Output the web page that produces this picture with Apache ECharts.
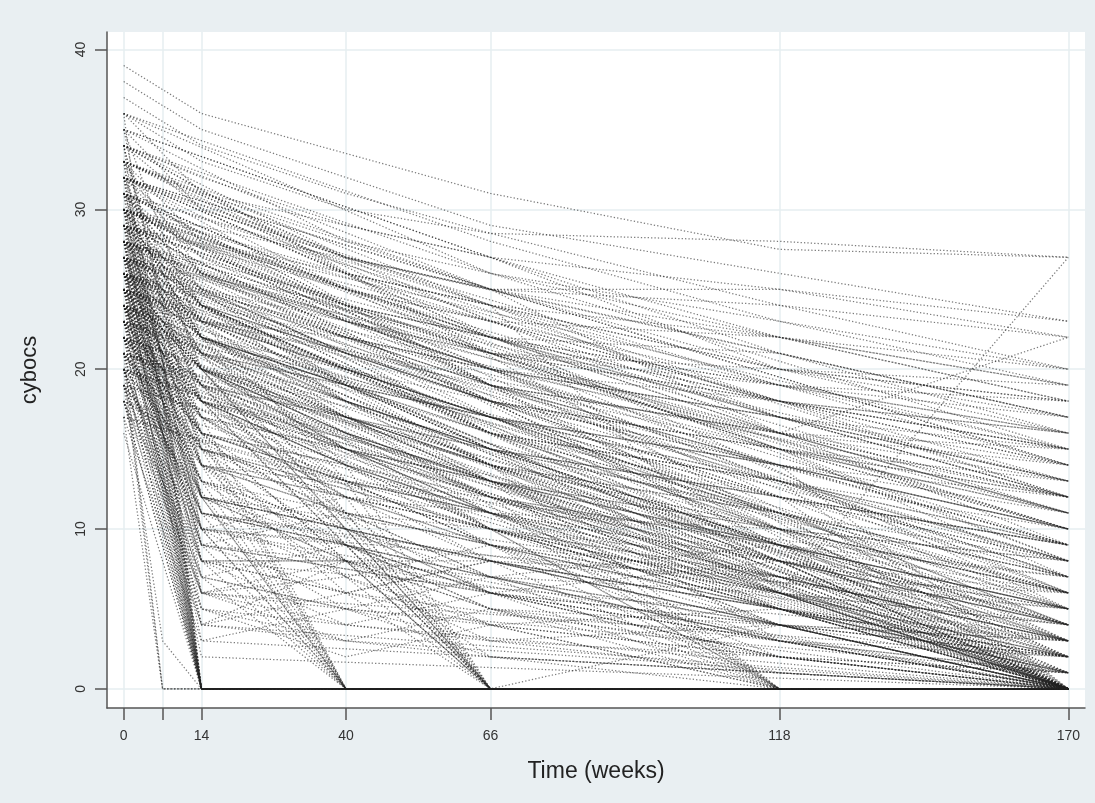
<!DOCTYPE html>
<html>
<head>
<meta charset="utf-8">
<title>cybocs over time</title>
<script src="https://cdn.jsdelivr.net/npm/echarts@6/dist/echarts.min.js"></script>
<style>
  html, body { margin: 0; padding: 0; background: #e9eff2; }
  #chart { width: 1095px; height: 803px; }
</style>
</head>
<body>
<div id="chart"></div>
<script>
// Visit weeks and axis ticks
const _ = null;
const weeks = [0, 7, 14, 40, 66, 118, 170];
const xTickWeeks = [0, 7, 14, 40, 66, 118, 170];
const xLabelWeeks = [0, 14, 40, 66, 118, 170];
const yTicks = [0, 10, 20, 30, 40];

// cybocs score per subject at each visit week (null = not assessed)
const steadyCourse = [
  [39,_,36,33.5,31,27.5,27],
  [38,_,35,32,29,26,23],
  [37,_,34,31,28.5,28,27],
  [36,_,33,30,28.5,24,22],
  [35,_,30,27,25,25,22],
  [34,_,32,29,27,22,20],
  [34,_,30,27,24,6,27],
  [33,_,31,28,25,16,22],
  [33,_,_,26,24,20,19],
  [32,_,28,25,23,22,18],
  [32,_,_,26,22,19,17],
  [31,_,27,24,21,18,16],
  [31,_,_,25,23,17,15],
  [30,_,26,24,22,19,14],
  [30,_,_,23,20,16,13],
  [29,_,25,22,20,17,12],
  [29,_,_,24,19,15,11],
  [28,_,24,21,18,14,10],
  [28,_,_,22,20,12,9],
  [27,_,23,20,17,13,8],
  [27,_,_,21,16,11,7],
  [26,_,22,19,16,10,6],
  [26,_,_,18,15,9,5],
  [25,_,21,18,14,8,4],
  [25,_,_,17,13,7,3],
  [24,_,20,16,12,6,2],
  [24,_,_,15,11,5,1],
  [23,_,19,14,10,4,0],
  [23,_,_,15,11,6,0],
  [22,_,18,13,9,3,0],
  [32,_,_,27,25,24,20],
  [30,_,28,26,24,22,18],
  [29,_,_,25,22,18,15],
  [28,_,26,23,21,15,12],
  [27,_,_,22,19,14,10],
  [26,_,24,21,18,12,9],
  [25,_,_,20,17,11,6],
  [24,_,22,19,15,9,5],
  [23,_,_,17,14,8,3],
  [22,_,20,16,13,6,1],
  [21,_,_,15,12,5,0],
  [20,_,18,14,11,4,0],
  [31,_,_,24,21,15,8],
  [29,_,24,20,17,10,4],
  [27,_,_,19,15,9,2],
  [33,_,28,24,22,21,16],
  [35,_,_,28,26,23,19],
  [36,_,31,29,27,25,23],
  [30,_,_,23,21,20,17],
  [28,_,23,22,20,17,14]
];

const midCourse = [
  [30,_,24,22,19,14,9],
  [29,_,_,_,18,13,8],
  [28,_,22,19,17,12,7],
  [27,_,_,_,16,11,6],
  [26,_,20,18,15,10,5],
  [25,_,_,_,14,9,4],
  [24,_,18,16,13,8,3],
  [23,_,_,_,12,7,2],
  [22,_,16,14,11,6,1],
  [21,_,_,_,10,5,0],
  [31,_,25,21,18,15,11],
  [30,_,_,_,19,16,12],
  [29,_,22,20,17,14,10],
  [28,_,_,_,16,13,9],
  [27,_,20,17,15,12,8],
  [26,_,_,_,14,10,6],
  [25,_,18,15,13,9,5],
  [24,_,_,_,12,8,4],
  [23,_,16,13,11,7,3],
  [22,_,_,_,10,6,2],
  [21,_,14,12,9,5,1],
  [20,_,_,_,8,4,0],
  [19,_,12,10,7,3,0],
  [18,_,_,_,6,2,0],
  [33,_,26,23,20,17,13],
  [32,_,_,_,19,16,14],
  [31,_,24,20,18,14,12],
  [34,_,_,_,21,18,15],
  [28,_,25,23,20,18,16],
  [27,_,_,_,21,19,18],
  [26,_,23,21,19,16,15],
  [25,_,_,_,18,15,13],
  [24,_,21,19,17,14,11],
  [23,_,_,_,16,13,10],
  [22,_,19,17,15,12,9],
  [21,_,_,_,14,11,7],
  [20,_,17,15,13,10,6],
  [19,_,_,_,12,9,5],
  [18,_,15,13,11,8,4],
  [17,_,_,_,10,7,3]
];

const upperFan = [
  [35,_,_,_,27,21,17],
  [34,_,_,27,_,19,15],
  [33,_,_,_,25,20,18],
  [32,_,_,26,_,18,14],
  [31,_,_,_,24,19,16],
  [30,_,_,25,_,17,13],
  [34,_,_,_,26,22,19],
  [33,_,_,27,_,21,17],
  [32,_,_,_,24,17,12],
  [31,_,_,25,_,16,11],
  [30,_,_,_,23,18,15],
  [29,_,_,24,_,18,14],
  [36,_,_,_,28,23,20],
  [28,_,_,_,22,17,13],
  [27,_,_,23,_,16,12],
  [29,_,_,_,23,19,16],
  [32,_,_,_,25,22,19],
  [30,_,_,26,_,20,18],
  [28,_,_,_,21,16,11],
  [26,_,_,22,_,15,10]
];

const longDiagonal = [
  [33,_,_,_,24,_,12],
  [31,_,_,_,21,_,6],
  [30,_,_,_,19,10,2],
  [29,_,_,_,18,_,0],
  [28,_,_,19,_,8,0],
  [27,_,_,_,16,_,1],
  [26,_,_,_,15,6,0],
  [25,_,_,18,_,_,3],
  [24,_,_,_,14,_,0],
  [32,_,_,25,_,15,7],
  [34,_,_,_,25,_,14],
  [35,_,_,_,27,20,16],
  [30,_,_,_,22,_,11],
  [28,_,_,_,20,14,9],
  [27,_,_,21,_,_,8],
  [26,_,_,_,18,12,5],
  [25,_,_,_,17,_,4],
  [23,_,_,18,_,_,2],
  [22,_,_,_,13,_,0],
  [29,_,_,_,21,15,10],
  [31,_,_,24,_,_,10],
  [33,_,_,_,23,18,13],
  [36,_,_,_,26,_,15],
  [32,_,_,_,22,16,11],
  [24,_,_,17,_,9,3],
  [21,_,_,_,12,_,0],
  [20,_,_,15,_,_,1],
  [28,_,_,_,19,_,6],
  [30,_,_,_,20,13,7],
  [26,_,_,20,_,11,4]
];

const weekSevenVisit = [
  [28,24,20,17,14,10,6],
  [26,22,18,15,12,8,4],
  [24,20,16,14,11,7,3],
  [30,26,22,19,16,12,8],
  [22,19,15,12,10,6,2],
  [25,21,17,15,13,9,5],
  [27,23,19,16,13,9,4],
  [29,25,21,18,15,11,7],
  [23,20,14,11,9,5,1],
  [21,18,13,10,8,4,0],
  [32,27,23,20,17,14,10],
  [20,17,12,9,7,3,0],
  [31,28,24,21,18,15,12],
  [19,16,11,9,6,2,0],
  [26,23,19,17,14,11,8],
  [33,29,_,_,22,_,12],
  [30,27,_,_,20,_,9],
  [27,22,_,_,17,_,5],
  [25,20,_,_,14,_,3],
  [24,19,_,_,13,_,0]
];

const entryAndEnd = [
  [34,_,_,_,_,_,0],
  [33,_,_,_,_,_,5],
  [32,_,_,_,_,_,14],
  [32,_,_,_,_,_,9],
  [31,_,_,_,_,_,0],
  [31,_,_,_,_,_,12],
  [30,_,_,_,_,_,3],
  [30,_,_,_,_,_,17],
  [30,_,_,_,_,_,8],
  [29,_,_,_,_,_,0],
  [29,_,_,_,_,_,6],
  [29,_,_,_,_,_,15],
  [28,_,_,_,_,_,2],
  [28,_,_,_,_,_,10],
  [28,_,_,_,_,_,0],
  [27,_,_,_,_,_,13],
  [27,_,_,_,_,_,4],
  [27,_,_,_,_,_,0],
  [26,_,_,_,_,_,1],
  [26,_,_,_,_,_,7],
  [26,_,_,_,_,_,0],
  [26,_,_,_,_,_,11],
  [25,_,_,_,_,_,0],
  [25,_,_,_,_,_,3],
  [25,_,_,_,_,_,9],
  [24,_,_,_,_,_,0],
  [24,_,_,_,_,_,5],
  [24,_,_,_,_,_,12],
  [23,_,_,_,_,_,0],
  [23,_,_,_,_,_,8],
  [22,_,_,_,_,_,1],
  [22,_,_,_,_,_,0],
  [21,_,_,_,_,_,0],
  [21,_,_,_,_,_,4],
  [20,_,_,_,_,_,2],
  [20,_,_,_,_,_,0],
  [19,_,_,_,_,_,0],
  [18,_,_,_,_,_,0],
  [17,_,_,_,_,_,0],
  [27,_,24,_,_,_,0],
  [26,_,22,_,_,_,0],
  [25,_,23,_,_,_,0],
  [25,_,20,_,_,_,0],
  [24,_,19,_,_,_,0],
  [23,_,17,_,_,_,0],
  [28,_,26,_,_,_,3],
  [29,_,25,_,_,_,7],
  [22,_,16,_,_,_,0],
  [21,_,15,_,_,_,0],
  [30,_,22,_,_,_,6],
  [31,_,26,_,_,_,10],
  [26,_,18,_,_,_,2]
];

const steepEarly = [
  [30,_,6,_,_,_,2],
  [28,_,4,_,_,_,0],
  [33,_,8,_,_,_,3],
  [26,_,3,_,_,_,0],
  [31,_,10,_,_,_,5],
  [24,_,2,_,_,_,0],
  [29,_,7,5,_,_,1],
  [35,_,12,_,_,_,4],
  [27,_,5,3,_,_,0],
  [32,_,9,_,6,_,2],
  [25,_,6,4,_,_,0],
  [34,_,14,_,_,_,7],
  [23,_,4,_,2,_,0],
  [30,_,11,_,_,_,3],
  [28,_,8,6,_,_,0]
];

const lowFluctuating = [
  [20,_,6,3,5,2,0],
  [18,_,4,8,2,0,0],
  [22,_,10,5,7,3,1],
  [24,_,8,6,4,5,2],
  [19,_,7,9,6,3,0],
  [21,_,5,4,6,2,1],
  [23,_,12,8,5,4,3],
  [25,_,11,7,9,6,4],
  [17,_,3,5,2,1,0],
  [26,_,13,10,8,5,2],
  [20,_,9,11,7,4,0],
  [22,_,6,7,3,2,1],
  [24,_,14,9,6,8,5],
  [18,_,8,4,3,1,0],
  [21,_,10,12,9,6,3],
  [27,_,15,11,10,7,5],
  [19,_,5,2,4,0,0],
  [23,_,9,6,8,7,6],
  [25,_,12,10,6,3,1],
  [20,_,7,5,3,4,2],
  [26,_,16,13,9,4,0],
  [28,_,17,12,10,6,0],
  [22,_,11,9,5,1,0],
  [24,_,13,7,4,2,0],
  [21,_,4,6,8,5,3],
  [23,_,10,8,7,9,7],
  [19,_,6,8,5,3,2],
  [25,_,14,12,11,10,8]
];

const earlyFast = [
  [32,_,12,10,8,5,2],
  [30,_,10,9,7,6,4],
  [34,_,15,12,10,8,6],
  [28,_,9,8,6,4,1],
  [29,_,14,11,9,7,3],
  [31,_,18,14,12,9,6],
  [33,_,20,16,13,10,8],
  [35,_,22,18,15,12,9],
  [27,_,16,13,11,8,5],
  [26,_,11,9,7,4,2]
];

const week7Drop = [
  [21,0,0,0,0,0,0],
  [20,0,0,_,_,_,0],
  [17,0,0,0,0,0,0],
  [19,3,0,0,0,0,0],
  [24,20,0,0,0,0,0],
  [26,21,0,0,0,0,0],
  [28,19,0,0,0,0,0],
  [23,18,0,0,0,0,0],
  [25,16,8,8,8,_,0],
  [22,15,8,8,_,_,0],
  [29,22,15,_,_,_,0],
  [30,24,18,_,_,_,4],
  [27,20,12,_,_,_,0],
  [24,17,9,_,_,_,0],
  [32,26,20,_,_,_,6],
  [20,14,10,_,_,_,0],
  [18,12,6,_,_,_,0],
  [26,18,13,_,_,_,1],
  [31,25,21,_,_,_,9],
  [22,16,11,_,_,_,2]
];

const week14Remit = [
  [36,_,0,0,0,0,0],
  [34,_,0,0,0,0,0],
  [32,_,0,0,0,0,0],
  [31,_,0,_,_,_,0],
  [30,_,0,0,0,0,0],
  [29,_,0,0,_,_,0],
  [28,_,0,0,0,0,0],
  [27,_,0,_,0,_,0],
  [26,_,0,0,0,0,0],
  [25,_,0,0,0,0,0],
  [24,_,0,_,_,_,0],
  [23,_,0,0,0,0,0],
  [22,_,0,0,0,_,0],
  [21,_,0,0,0,0,0],
  [20,_,0,_,_,_,0],
  [19,_,0,0,0,0,0],
  [18,_,0,0,0,0,0],
  [16,_,0,0,0,0,0],
  [33,_,0,0,_,_,0],
  [27,_,0,0,0,0,0],
  [25,_,0,_,_,_,0],
  [22,_,0,0,0,0,0],
  [20,_,0,0,0,0,0],
  [18,_,0,_,_,_,0]
];

const week40Remit = [
  [24,_,9,0,0,0,0],
  [26,_,12,0,0,0,0],
  [22,_,10,0,0,0,0],
  [28,_,14,0,0,0,0],
  [25,_,17,0,0,0,0],
  [20,_,8,0,0,0,0],
  [23,_,11,0,_,_,0],
  [27,_,15,0,0,0,0],
  [21,_,13,0,0,0,0],
  [30,_,16,0,0,0,0],
  [19,_,_,0,0,0,0],
  [24,_,_,0,0,_,0],
  [23,_,7,0,0,0,0],
  [26,_,10,0,0,0,0],
  [29,_,12,0,_,_,0]
];

const week66Remit = [
  [26,_,20,_,0,0,0],
  [27,_,21,_,0,0,0],
  [25,_,19,10,0,0,0],
  [24,_,18,9,0,0,0],
  [28,_,22,_,0,0,0],
  [23,_,16,8,0,0,0],
  [29,_,20,11,0,0,0],
  [22,_,15,7,0,0,0],
  [26,_,17,12,0,_,0],
  [24,_,14,6,0,0,0],
  [30,_,23,13,0,0,0],
  [25,_,20,10,0,4,3],
  [21,_,13,9,0,0,0],
  [27,_,18,14,0,0,0],
  [22,_,18,_,0,0,0],
  [28,_,19,_,0,0,0],
  [25,_,16,_,0,0,0],
  [24,_,12,8,0,0,0]
];

const week118Remit = [
  [25,_,20,15,10,0,0],
  [27,_,22,14,9,0,0],
  [24,_,18,12,8,0,0],
  [28,_,21,16,11,0,0],
  [23,_,17,11,7,0,0],
  [26,_,19,13,12,0,0],
  [22,_,16,10,6,0,0],
  [29,_,24,18,13,0,0],
  [21,_,15,9,5,0,0],
  [30,_,22,17,14,0,0],
  [24,_,_,_,10,0,0],
  [26,_,_,_,_,0,0],
  [20,_,14,8,4,0,0]
];

const week170Remit = [
  [28,_,23,19,15,8,0],
  [27,_,22,18,14,6,0],
  [26,_,21,17,13,5,0],
  [29,_,24,20,16,10,0],
  [25,_,20,16,12,7,0],
  [30,_,25,21,17,12,0],
  [24,_,19,15,11,4,0],
  [31,_,26,22,18,9,0],
  [26,_,22,19,15,11,0],
  [23,_,18,14,10,5,0],
  [28,_,24,19,14,3,0],
  [27,_,23,20,16,13,0],
  [25,_,21,17,13,8,0],
  [22,_,17,13,9,2,0],
  [32,_,27,23,19,14,0],
  [26,_,20,15,12,6,0]
];

const subjects = [].concat(steadyCourse, midCourse, upperFan, longDiagonal,
  weekSevenVisit, entryAndEnd, steepEarly, lowFluctuating, earlyFast, week7Drop,
  week14Remit, week40Remit, week66Remit, week118Remit, week170Remit);

// Pair each score with its visit week, skipping missed visits
function toPoints(row) {
  return weeks.map((w, i) => [w, row[i]]).filter(p => p[1] !== null);
}

const traceStyle = { color: 'rgba(35,35,35,0.6)', width: 1.25, type: [1.3, 2.1] };

const series = subjects.map(row => ({
  type: 'line',
  data: toPoints(row),
  symbol: 'none',
  silent: true,
  animation: false,
  lineStyle: traceStyle
}));

const axisFont = { fontFamily: 'Liberation Sans, Arial, sans-serif', color: '#333', fontSize: 14 };

const chart = echarts.init(document.getElementById('chart'), null, { renderer: 'canvas' });
chart.setOption({
  backgroundColor: '#e9eff2',
  animation: false,
  grid: {
    left: 107, top: 32, width: 978, height: 676,
    show: true, backgroundColor: '#ffffff', borderWidth: 0
  },
  xAxis: {
    type: 'value', min: -3, max: 173,
    name: 'Time (weeks)', nameLocation: 'middle', nameGap: 52,
    nameTextStyle: { fontFamily: 'Liberation Sans, Arial, sans-serif', fontSize: 23, color: '#222' },
    axisLine: { show: true, onZero: false, lineStyle: { color: '#555', width: 1.5 } },
    axisTick: { show: true, length: 12, customValues: xTickWeeks, lineStyle: { color: '#555', width: 1.5 } },
    axisLabel: Object.assign({ customValues: xLabelWeeks, margin: 21 }, axisFont),
    splitLine: { show: true, lineStyle: { color: '#e6eef0', width: 1.5 } }
  },
  yAxis: {
    type: 'value', min: -1.2, max: 41.1,
    name: 'cybocs', nameLocation: 'middle', nameGap: 66, nameRotate: 90,
    nameTextStyle: { fontFamily: 'Liberation Sans, Arial, sans-serif', fontSize: 22, color: '#222' },
    axisLine: { show: true, onZero: false, lineStyle: { color: '#555', width: 1.5 } },
    axisTick: { show: true, length: 12, customValues: yTicks, lineStyle: { color: '#555', width: 1.5 } },
    axisLabel: Object.assign({ customValues: yTicks, rotate: 90, margin: 19 }, axisFont),
    splitLine: { show: true, lineStyle: { color: '#e6eef0', width: 1.5 } }
  },
  series: series
});
</script>
</body>
</html>
